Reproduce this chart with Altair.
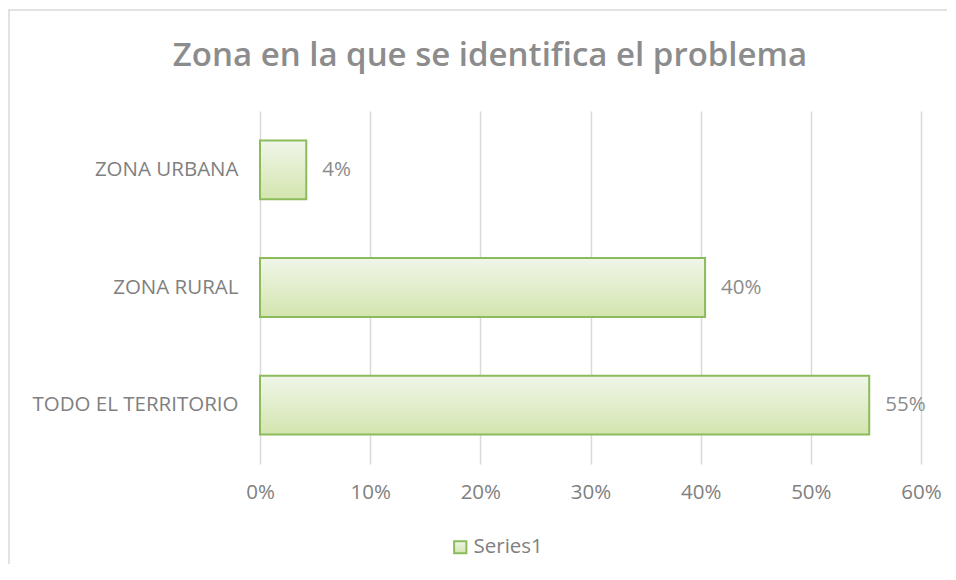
import altair as alt
import pandas as pd

categories = ["ZONA URBANA", "ZONA RURAL", "TODO EL TERRITORIO"]
values = [0.042, 0.404, 0.553]
series_name = "Series1"
tick_values = [0, 0.1, 0.2, 0.3, 0.4, 0.5, 0.6]
title_text = "Zona en la que se identifica el problema"

df = pd.DataFrame({"zona": categories, "valor": values, "serie": [series_name] * len(categories)})

FONT = "Open Sans"
GRAY = "#8c8c8c"
LABEL_GRAY = "#808080"
FS = 20.5

grad = alt.Gradient(
    gradient="linear", x1=0, x2=0, y1=0, y2=1,
    stops=[alt.GradientStop(color="#f0f6e9", offset=0),
           alt.GradientStop(color="#d3e5ae", offset=1)],
)

base = alt.Chart(df)

yenc = alt.Y("zona:N", sort=categories, title=None,
             scale=alt.Scale(paddingInner=0.5, paddingOuter=0.25),
             axis=alt.Axis(domain=False, ticks=False, labelPadding=22, labelFontSize=FS,
                           labelLimit=0, labelColor=LABEL_GRAY, labelFont=FONT,
                           labelFontWeight="normal"))
xenc = alt.X("valor:Q", title=None,
             scale=alt.Scale(domain=[0, 0.6], nice=False),
             axis=alt.Axis(values=tick_values, format=".0%", grid=True, gridColor="#d9d9d9",
                           gridWidth=1.5, domain=False, ticks=False, labelPadding=18,
                           labelFlush=False, labelFontSize=FS, labelColor=LABEL_GRAY,
                           labelFont=FONT))

bars = base.mark_bar(fill=grad, strokeWidth=2).encode(
    x=xenc, y=yenc,
    stroke=alt.Stroke("serie:N", scale=alt.Scale(range=["#8cbb5c"]),
                      legend=alt.Legend(orient="none", legendX=190, legendY=426, title=None,
                                        symbolType="square", symbolFillColor="#e2efd4",
                                        symbolStrokeWidth=2, symbolSize=150, labelOffset=3,
                                        labelFontSize=FS, labelColor=LABEL_GRAY, labelFont=FONT)),
)

labels = base.mark_text(align="left", baseline="middle", dx=16, fontSize=FS,
                        color=GRAY, font=FONT).encode(
    x="valor:Q", y=alt.Y("zona:N", sort=categories),
    text=alt.Text("valor:Q", format=".0%"),
)

title = alt.Chart(alt.Data(values=[{"t": title_text}])).mark_text(
    align="center", baseline="alphabetic", fontSize=33, fontWeight=600,
    color=GRAY, font=FONT,
).encode(x=alt.value(230), y=alt.value(-45), text="t:N")

border = alt.Chart(alt.Data(values=[{"a": 1}])).mark_rect(
    fill=None, stroke="#d9d9d9", strokeWidth=1.5, clip=False
).encode(x=alt.value(-251), x2=alt.value(720), y=alt.value(-101), y2=alt.value(500))

chart = alt.layer(border, bars, labels, title).properties(
    width=661, height=353,
    background="white",
    autosize=alt.AutoSizeParams(type="none"),
    padding={"left": 252, "top": 103, "right": 26, "bottom": 100},
).configure_view(stroke=None)

chart.save("out.html", embed_options={"renderer": "svg", "actions": False})
